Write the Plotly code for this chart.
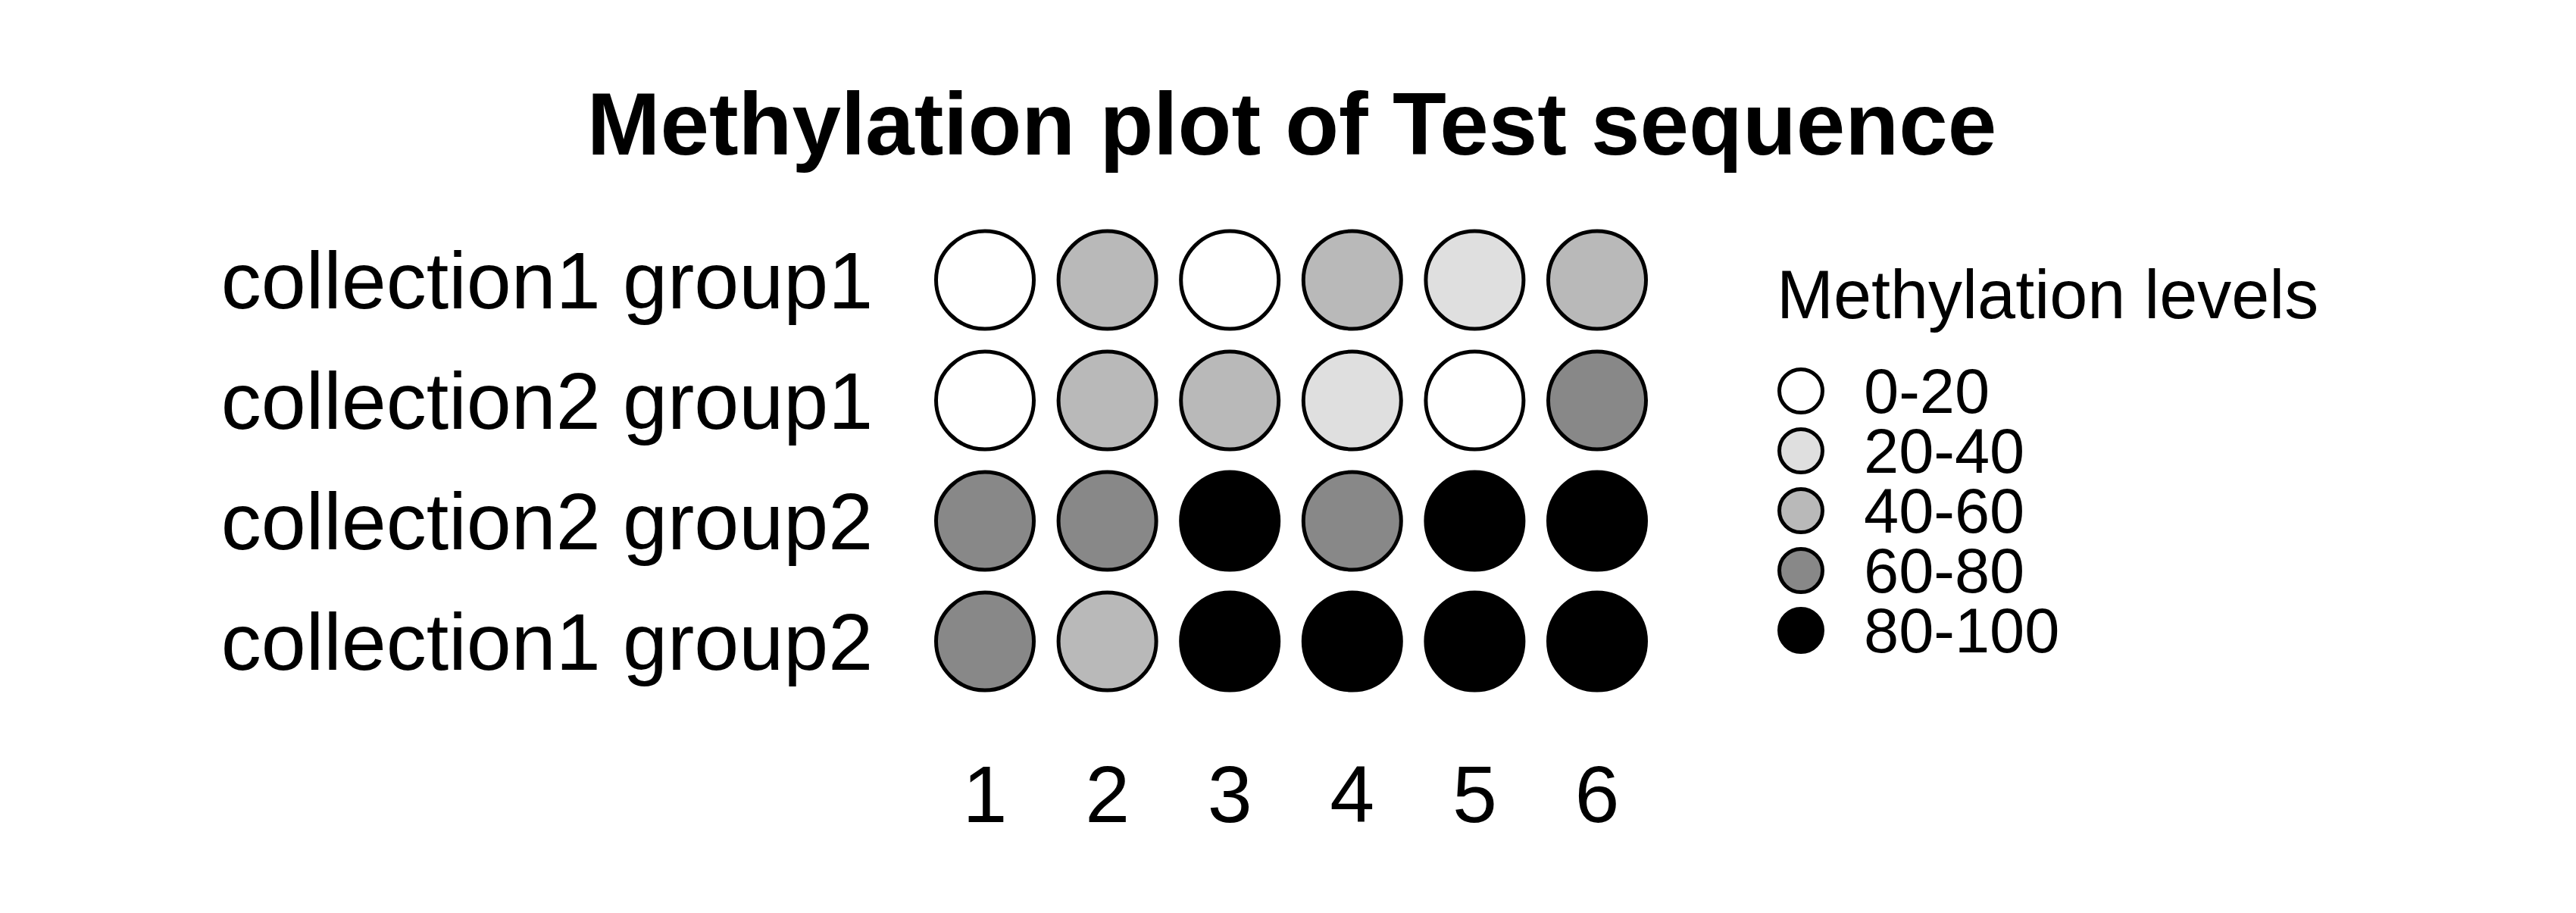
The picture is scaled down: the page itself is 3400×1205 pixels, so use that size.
import plotly.graph_objects as go

# ---------------- data ----------------
row_labels = ["collection1 group1", "collection2 group1", "collection2 group2", "collection1 group2"]
positions = [1, 2, 3, 4, 5, 6]
level_labels = ["0-20", "20-40", "40-60", "60-80", "80-100"]
level_colors = ["#FFFFFF", "#DFDFDF", "#B9B9B9", "#888888", "#000000"]
# methylation level index (0..4) per row, per CpG position
row1_levels = [0, 2, 0, 2, 1, 2]   # collection1 group1
row2_levels = [0, 2, 2, 1, 0, 3]   # collection2 group1
row3_levels = [3, 3, 4, 3, 4, 4]   # collection2 group2
row4_levels = [3, 2, 4, 4, 4, 4]   # collection1 group2
all_rows = [row1_levels, row2_levels, row3_levels, row4_levels]

W, H = 3400, 1205
FONT = "Liberation Sans, Arial, sans-serif"

def px_x(p):
    return p / W

def px_y(p):
    return 1 - p / H

fig = go.Figure()

n_rows = len(row_labels)
row_y = [n_rows - i for i in range(n_rows)]  # top row gets largest y

for li, (lab, col) in enumerate(zip(level_labels, level_colors)):
    xs, ys = [], []
    for ri, levels in enumerate(all_rows):
        for pos, lv in zip(positions, levels):
            if lv == li:
                xs.append(pos)
                ys.append(row_y[ri])
    fig.add_trace(go.Scatter(
        x=xs, y=ys, mode="markers", showlegend=False, hoverinfo="skip",
        marker=dict(size=129, color=col, line=dict(color="#000000", width=5)),
        xaxis="x", yaxis="y",
    ))

# custom legend drawn on its own small axes
leg_y = [len(level_labels) - i for i in range(len(level_labels))]
fig.add_trace(go.Scatter(
    x=[0] * len(level_labels), y=leg_y, mode="markers", showlegend=False, hoverinfo="skip",
    marker=dict(size=57, color=level_colors, line=dict(color="#000000", width=5)),
    xaxis="x2", yaxis="y2",
))

# geometry (pixels)
col_step = 161.6
row_step = 159.0
x_left = 1300 - 0.5 * col_step
x_right = x_left + len(positions) * col_step
y_top = 369.5 - 0.5 * row_step
y_bot = y_top + n_rows * row_step

leg_step = 79.0
leg_top = 516 - 0.5 * leg_step
leg_bot = leg_top + len(level_labels) * leg_step

fig.update_layout(
    width=W, height=H,
    margin=dict(l=0, r=0, t=0, b=0),
    paper_bgcolor="white", plot_bgcolor="white",
    font=dict(family=FONT, color="black"),
    title=dict(
        text="<b>Methylation plot of Test sequence</b>",
        font=dict(family=FONT, size=116, color="black"),
        x=px_x(1705), xanchor="center", xref="paper",
        y=px_y(163), yanchor="middle", yref="container",
    ),
    xaxis=dict(
        domain=[px_x(x_left), px_x(x_right)],
        range=[0.5, len(positions) + 0.5],
        tickvals=positions, ticktext=[str(p) for p in positions],
        tickfont=dict(family=FONT, size=106, color="black"),
        showgrid=False, zeroline=False, showline=False, ticks="",
        ticklabelstandoff=52, automargin=False, fixedrange=True,
    ),
    yaxis=dict(
        domain=[px_y(y_bot), px_y(y_top)],
        range=[0.5, n_rows + 0.5],
        tickvals=row_y, ticktext=row_labels,
        tickfont=dict(family=FONT, size=106, color="black"),
        showgrid=False, zeroline=False, showline=False, ticks="",
        ticklabelstandoff=66, automargin=False, fixedrange=True,
    ),
    xaxis2=dict(
        domain=[px_x(2317), px_x(2437)],
        range=[-1, 1], anchor="y2",
        showgrid=False, zeroline=False, showline=False, showticklabels=False, ticks="",
        automargin=False, fixedrange=True,
    ),
    yaxis2=dict(
        domain=[px_y(leg_bot), px_y(leg_top)],
        range=[0.5, len(level_labels) + 0.5], anchor="x2", side="right",
        tickvals=leg_y, ticktext=level_labels,
        tickfont=dict(family=FONT, size=83, color="black"),
        showgrid=False, zeroline=False, showline=False, ticks="",
        ticklabelstandoff=22, automargin=False, fixedrange=True,
    ),
    annotations=[dict(
        text="Methylation levels", xref="paper", yref="paper",
        x=px_x(2343), xanchor="left", y=px_y(389.5), yanchor="middle",
        showarrow=False, font=dict(family=FONT, size=90, color="black"),
    )],
)

fig.write_html("out.html")
